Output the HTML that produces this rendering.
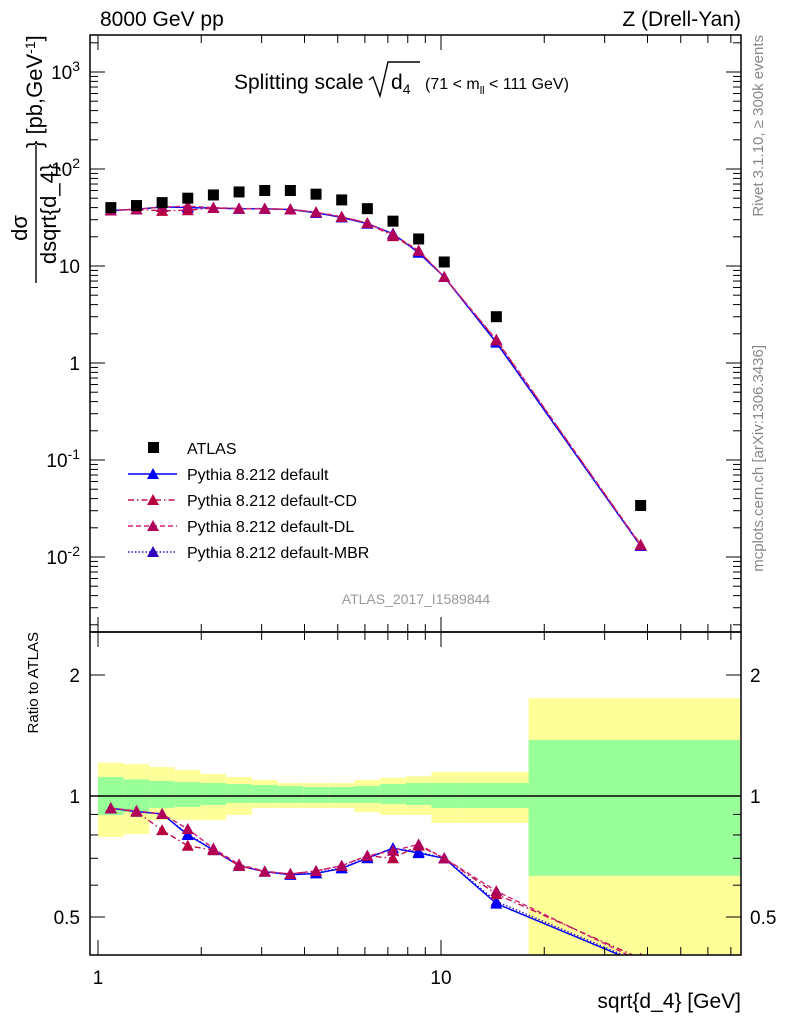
<!DOCTYPE html>
<html><head><meta charset="utf-8"><style>
html,body{margin:0;padding:0;background:#fff;}
svg{display:block;font-family:"Liberation Sans",Arial,sans-serif;}
</style></head><body>
<svg id="c" width="786" height="1024" viewBox="0 0 786 1024" xmlns="http://www.w3.org/2000/svg"></svg>
<script>
const binEdges=[1.0,1.188,1.411,1.676,1.991,2.365,2.81,3.338,3.965,4.71,5.595,6.647,7.896,9.38,11.14,18.0,81.0];
const xCenters=[1.09,1.295,1.538,1.827,2.17,2.578,3.063,3.638,4.322,5.134,6.099,7.245,8.606,10.22,14.5,38.2];
const atlasVals=[40,42,45,50,54,58,60,60,55,48,39,29,19,11,3.0,0.034];
const mcDefault=[37.3,38.4,40.6,40,39.6,38.9,38.9,38.2,35.3,31.7,27.3,21.5,13.7,7.7,1.62,0.013];
const mcCD=[37.3,38.4,37.0,37.6,39.6,38.9,38.9,38.4,35.8,32.2,27.7,20.3,14.3,7.7,1.71,0.0134];
const mcDL=[37.3,38.6,40.6,41.4,40,39.2,39,38.4,35.8,32.2,27.7,21.2,14.4,7.7,1.74,0.0132];
const mcMBR=[37.3,38.4,40.6,40.2,39.7,38.9,38.9,38.3,35.4,31.8,27.4,21.5,13.8,7.7,1.64,0.0131];
const yellowHi=[1.21,1.20,1.18,1.16,1.134,1.115,1.096,1.077,1.077,1.077,1.096,1.11,1.12,1.147,1.147,1.75];
const yellowLo=[0.791,0.804,0.872,0.872,0.872,0.897,0.934,0.934,0.934,0.934,0.912,0.897,0.897,0.857,0.857,0.30];
const greenHi=[1.115,1.10,1.09,1.083,1.077,1.071,1.065,1.059,1.053,1.053,1.059,1.071,1.077,1.077,1.077,1.378];
const greenLo=[0.897,0.912,0.934,0.939,0.950,0.961,0.961,0.961,0.961,0.961,0.961,0.955,0.950,0.934,0.934,0.633];
const mainTicks=["10^-2","10^-1","1","10","10^2","10^3"];

const S=document.getElementById('c'),NS="http://www.w3.org/2000/svg";
function el(t,a,p){const e=document.createElementNS(NS,t);for(const k in a)e.setAttribute(k,a[k]);(p||S).appendChild(e);return e;}
const L=90,R=741,MT=35,MB=632,RT=632,RB=955;
const X=v=>98+343*Math.log10(v);
const YM=v=>266-97*(Math.log10(v)-1);
const YR=v=>796-402*Math.log10(v);
const defs=el('defs',{});
const c1=el('clipPath',{id:'cm'},defs);el('rect',{x:L,y:MT,width:R-L,height:MB-MT},c1);
const c2=el('clipPath',{id:'cr'},defs);el('rect',{x:L,y:RT,width:R-L,height:RB-RT},c2);

const gb=el('g',{'clip-path':'url(#cr)'});

for(let i=0;i<xCenters.length;i++){
 const x0=X(binEdges[i]),x1=Math.min(X(binEdges[i+1]),R-1);
 const y=el('rect',{x:x0,y:YR(yellowHi[i]),width:x1-x0,height:YR(yellowLo[i])-YR(yellowHi[i]),fill:'#ffff99'},gb);
 
 const g=el('rect',{x:x0,y:YR(greenHi[i]),width:x1-x0,height:YR(greenLo[i])-YR(greenHi[i]),fill:'#99ff99'},gb);
 
}
el('line',{x1:L,x2:R,y1:YR(1),y2:YR(1),stroke:'#000','stroke-width':1.5});

const series=[
 {name:'default',v:mcDefault,c:'#0000ff',m:'#0000ff',d:''},
 {name:'default-CD',v:mcCD,c:'#c0104a',m:'#b8003f',d:'6,3,1.5,3'},
 {name:'default-DL',v:mcDL,c:'#cc2277',m:'#b0005a',d:'5,3'},
 {name:'default-MBR',v:mcMBR,c:'#3311cc',m:'#3300bb',d:'1.5,2'}];
function tri(g,x,y,c){const t=el('polygon',{points:`${x},${y-6} ${x-6},${y+5} ${x+6},${y+5}`,fill:c},g);}
function drawSeries(s,yf,clip,vals){
 const g=el('g',{'clip-path':`url(#${clip})`});
 
 const pts=vals.map((v,i)=>X(xCenters[i])+','+yf(v)).join(' ');
 const pl=el('polyline',{points:pts,fill:'none',stroke:s.c,'stroke-width':1.4,'stroke-dasharray':s.d},g);
 
 vals.forEach((v,i)=>tri(g,X(xCenters[i]),yf(v),s.m));
}
[series[3],series[0],series[1],series[2]].forEach(s=>{drawSeries(s,YM,'cm',s.v);drawSeries(s,YR,'cr',s.v.map((v,i)=>v/atlasVals[i]));});
const ga=el('g',{'clip-path':'url(#cm)'});

atlasVals.forEach((v,i)=>{const r=el('rect',{x:X(xCenters[i])-5.5,y:YM(v)-5.5,width:11,height:11,fill:'#000'},ga);});

for(const [t,b] of [[MT,MB],[RT,RB]]){const f=el('rect',{x:L,y:t,width:R-L,height:b-t,fill:'none',stroke:'#000','stroke-width':1.5});}
function xt(v,len){for(const [t,b] of [[MT,MB],[RT,RB]]){el('line',{x1:X(v),x2:X(v),y1:b,y2:b-len,stroke:'#000'});el('line',{x1:X(v),x2:X(v),y1:t,y2:t+len,stroke:'#000'});}}
for(let d of [1,10])for(let k=1;k<10;k++){const v=d*k;if(X(v)>R)break;xt(v,k==1?15:8);}
for(let e=-3;e<=3;e++)for(let k=1;k<10;k++){const y=YM(k*Math.pow(10,e));if(y<MT||y>MB)continue;const len=k==1?15:8;el('line',{x1:L,x2:L+len,y1:y,y2:y,stroke:'#000'});el('line',{x1:R,x2:R-len,y1:y,y2:y,stroke:'#000'});}
mainTicks.forEach((s,i)=>{const y=YM(Math.pow(10,i-2));const g=el('text',{x:80,y:y+7,'text-anchor':'end','font-size':19});
 if(s.includes('^')){const [b,p]=s.split('^');g.textContent=b;const t=el('tspan',{dy:-8,'font-size':14},g);t.textContent=p;}else g.textContent=s;});
[[0.5,15],[0.6,8],[0.7,8],[0.8,8],[0.9,8],[1,15],[2,15]].forEach(([v,len])=>{const y=YR(v);el('line',{x1:L,x2:L+len,y1:y,y2:y,stroke:'#000'});el('line',{x1:R,x2:R-len,y1:y,y2:y,stroke:'#000'});});
[['0.5',0.5],['1',1],['2',2]].forEach(([s,v])=>{for(const [x,a] of [[80,'end'],[750,'start']]){const t=el('text',{x,y:YR(v)+7,'text-anchor':a,'font-size':19});t.textContent=s;}});
[['1',1],['10',10]].forEach(([s,v])=>{const t=el('text',{x:X(v),y:984,'text-anchor':'middle','font-size':19});t.textContent=s;});
function txt(s,a,name){const t=el('text',a);t.textContent=s;return t;}
txt('sqrt{d_4} [GeV]',{x:741,y:1008,'text-anchor':'end','font-size':21},'x-axis-title');
txt('Ratio to ATLAS',{x:0,y:0,'font-size':15,'text-anchor':'end',transform:'translate(38,632) rotate(-90)'},'ratio-axis-title');
txt('8000 GeV pp',{x:100,y:26,'font-size':21},'energy-label');
txt('Z (Drell-Yan)',{x:741,y:26,'font-size':21,'text-anchor':'end'},'process-label');
txt('ATLAS_2017_I1589844',{x:416,y:604,'font-size':14,fill:'#999','text-anchor':'middle'},'analysis-id');
txt('Rivet 3.1.10, \u2265 300k events',{x:0,y:0,'font-size':15,fill:'#888','text-anchor':'end',transform:'translate(763,35) rotate(-90)'},'rivet-label');
txt('mcplots.cern.ch [arXiv:1306.3436]',{x:0,y:0,'font-size':15,fill:'#888','text-anchor':'end',transform:'translate(763,345) rotate(-90)'},'mcplots-label');
txt('Splitting scale',{x:234,y:89,'font-size':21},'plot-title');
el('path',{d:'M369,80 l4,-3 l7,19 l8,-34 h32',fill:'none',stroke:'#000','stroke-width':1.4});
const d4=txt('d',{x:391,y:89,'font-size':21},'title-d4');const s4=el('tspan',{dy:5,'font-size':14},d4);s4.textContent='4';
const tr=txt('(71 < m',{x:425,y:89,'font-size':16},'title-range');const s2=el('tspan',{dy:5,'font-size':11},tr);s2.textContent='ll';const s3=el('tspan',{dy:-5},tr);s3.textContent=' < 111 GeV)';
const yt=el('g',{});
const a1=el('text',{x:0,y:0,'font-size':22,'text-anchor':'middle',transform:'translate(27,228) rotate(-90)'},yt);a1.textContent='dσ';
el('line',{x1:36,x2:36,y1:145,y2:283,stroke:'#000','stroke-width':1.4},yt);
const a2=el('text',{x:0,y:0,'font-size':22,'text-anchor':'middle',transform:'translate(56,214) rotate(-90)'},yt);a2.textContent='dsqrt{d_4}';
const a3=el('text',{x:0,y:0,'font-size':22,'text-anchor':'start',transform:'translate(42,148) rotate(-90)'},yt);a3.textContent='} [pb,GeV';
const a4=el('tspan',{dy:-7,'font-size':14},a3);a4.textContent='-1';const a5=el('tspan',{dy:7},a3);a5.textContent=']';
const lg=el('g',{});
const le0=el('g',{},lg);
el('rect',{x:148,y:442,width:11,height:11,fill:'#000'},le0);const lt0=el('text',{x:187,y:454,'font-size':16},le0);lt0.textContent='ATLAS';
series.forEach((s,i)=>{const y=474+26*i;const g=el('g',{},lg);
 el('line',{x1:128,x2:177,y1:y,y2:y,stroke:s.c,'stroke-width':1.4,'stroke-dasharray':s.d},g);tri(g,153,y,s.m);
 const t=el('text',{x:187,y:y+6,'font-size':16},g);t.textContent='Pythia 8.212 '+s.name;});
</script>
</body></html>
